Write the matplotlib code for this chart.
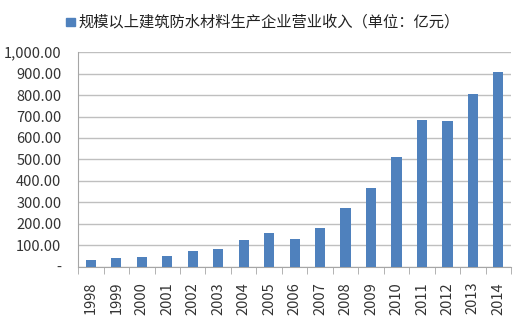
import matplotlib.pyplot as plt
import numpy as np
from matplotlib.patches import Rectangle

plt.rcParams['font.family'] = ['Noto Sans CJK SC', 'DejaVu Sans']

# Data (亿元)
years = ['1998', '1999', '2000', '2001', '2002', '2003', '2004', '2005', '2006',
         '2007', '2008', '2009', '2010', '2011', '2012', '2013', '2014']
revenue = [30, 39, 47, 50, 73, 84, 123, 158, 127, 179, 274, 365, 513, 684, 678, 803, 906]
legend_label = '规模以上建筑防水材料生产企业营业收入（单位：亿元）'

bar_color = '#4F81BD'
grid_color = '#BFBFBF'

fig = plt.figure(figsize=(5.21, 3.26), dpi=100)
ax = fig.add_axes([0.150, 0.182, 0.831, 0.658])

x = np.arange(len(years))
ax.bar(x, revenue, width=0.4, color=bar_color, zorder=3)

ax.set_xlim(-0.5, len(years) - 0.5)
ax.set_ylim(0, 1000)
yt = np.arange(0, 1001, 100)
ax.set_yticks(yt)
ax.set_yticklabels(['-' if v == 0 else f'{v:,.2f}' for v in yt], fontsize=10.5, color='#333333')
ax.yaxis.grid(True, color=grid_color, linewidth=1, zorder=0)
ax.tick_params(axis='y', length=0, pad=12)

# year labels centred on bars, tick marks between categories
ax.set_xticks(x)
ax.set_xticklabels(years, rotation=90, fontsize=10.5, color='#333333')
ax.tick_params(axis='x', length=0, pad=11)
ax.set_xticks(np.arange(-0.5, len(years)), minor=True)
ax.tick_params(axis='x', which='minor', length=5, color='#A6A6A6', direction='out')

for s in ['top', 'right']:
    ax.spines[s].set_visible(False)
for s in ['left', 'bottom']:
    ax.spines[s].set_color('#A6A6A6')

# legend on top
fig.patches.append(Rectangle((0.127, 0.920), 0.017, 0.026, transform=fig.transFigure,
                             color=bar_color, figure=fig))
fig.text(0.150, 0.933, legend_label, fontsize=11, va='center', ha='left', color='#222222')

plt.savefig('out.png', dpi=100)
